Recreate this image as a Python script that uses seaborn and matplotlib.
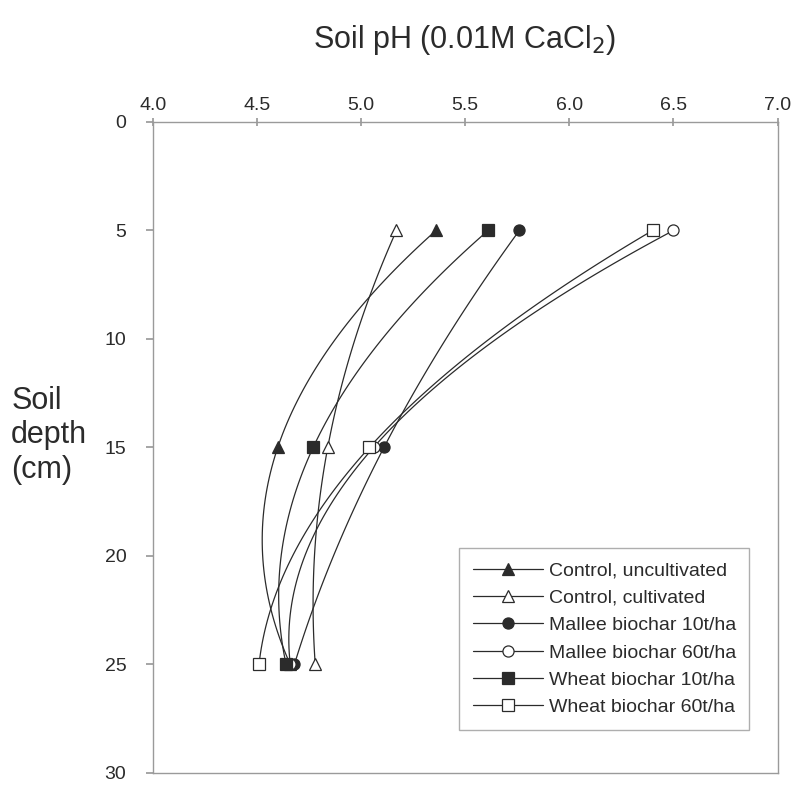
import numpy as np
import pandas as pd
import matplotlib
matplotlib.use("Agg")
import matplotlib.pyplot as plt
from matplotlib.lines import Line2D
import seaborn as sns

sns.set_theme(style="white")
plt.rcParams["font.family"] = ["Liberation Sans", "DejaVu Sans"]

INK = "#2b2b2b"
FRAME = "#9a9a9a"

depths = [5, 15, 25]
series = [
    "Control, uncultivated",
    "Control, cultivated",
    "Mallee biochar 10t/ha",
    "Mallee biochar 60t/ha",
    "Wheat biochar 10t/ha",
    "Wheat biochar 60t/ha",
]
control_uncult = [5.36, 4.60, 4.66]
control_cult = [5.17, 4.84, 4.78]
mallee_10 = [5.76, 5.11, 4.68]
mallee_60 = [6.50, 5.06, 4.66]
wheat_10 = [5.61, 4.77, 4.64]
wheat_60 = [6.40, 5.04, 4.51]
values = [control_uncult, control_cult, mallee_10, mallee_60, wheat_10, wheat_60]

markers = ["^", "^", "o", "o", "s", "s"]
filled = [True, False, True, False, True, False]
x_ticks = [4.0, 4.5, 5.0, 5.5, 6.0, 6.5, 7.0]
y_ticks = [0, 5, 10, 15, 20, 25, 30]

fig = plt.figure(figsize=(8, 7.87), dpi=100)
ax = fig.add_axes([0.191, 0.018, 0.781, 0.827])

# smooth curve through the three measured depths of each treatment
rows = []
for name, vals in zip(series, values):
    coef = np.polyfit(depths, vals, 2)
    dd = np.linspace(depths[0], depths[-1], 80)
    for d, v in zip(dd, np.polyval(coef, dd)):
        rows.append({"series": name, "depth": d, "ph": v})
curves = pd.DataFrame(rows)
sns.lineplot(data=curves, x="ph", y="depth", units="series", estimator=None,
             orient="y", sort=True, color=INK, lw=0.9, ax=ax, legend=False)

handles = []
for name, vals, m, f in zip(series, values, markers, filled):
    face = INK if f else "white"
    ax.plot(vals, depths, ls="none", marker=m, ms=8, mfc=face, mec=INK,
            mew=0.9, zorder=3)
    handles.append(Line2D([0], [0], color=INK, lw=0.9, marker=m, ms=8,
                          mfc=face, mec=INK, mew=0.9, label=name))

ax.set_xlim(4.0, 7.0)
ax.set_ylim(30, 0)
ax.xaxis.tick_top()
ax.set_xticks(x_ticks)
ax.set_xticklabels([f"{t:.1f}" for t in x_ticks])
ax.set_yticks(y_ticks)
ax.tick_params(axis="x", direction="inout", length=6, color=FRAME,
               labelsize=14, labelcolor=INK, pad=3)
ax.tick_params(axis="y", direction="out", length=5, color=FRAME,
               labelsize=14, labelcolor=INK, left=True, pad=14)
for sp in ax.spines.values():
    sp.set_color(FRAME)
    sp.set_linewidth(1.0)
ax.set_xlabel("")
ax.set_ylabel("")

fig.text(0.581, 0.949, "Soil pH (0.01M CaCl$_2$)", ha="center", va="center",
         fontsize=22, color=INK)
fig.text(0.014, 0.447, "Soil\ndepth\n(cm)", ha="left", va="center",
         fontsize=22, color=INK, linespacing=1.2)

leg = ax.legend(handles=handles, loc="lower right", bbox_to_anchor=(0.955, 0.066),
                borderaxespad=0, fontsize=14, frameon=True, fancybox=False,
                edgecolor=FRAME, handlelength=3.6, handletextpad=0.3,
                labelspacing=0.5, borderpad=0.7, labelcolor=INK)
leg.get_frame().set_linewidth(1.0)

fig.savefig("out.png", dpi=100, facecolor="white")
